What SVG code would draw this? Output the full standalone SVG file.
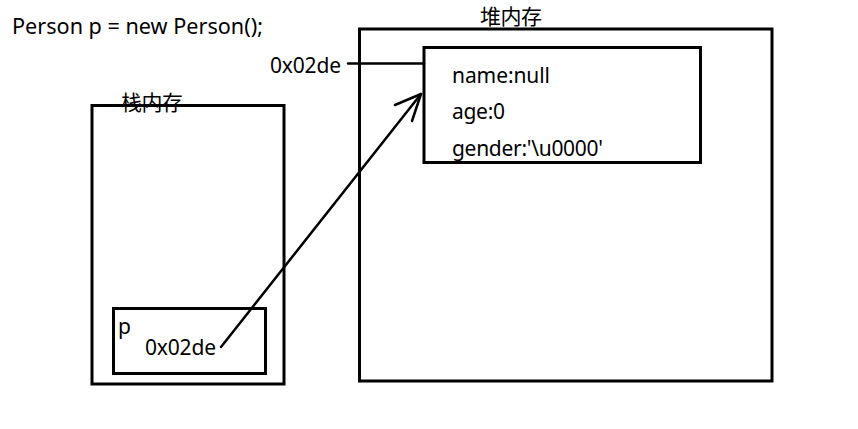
<svg xmlns="http://www.w3.org/2000/svg" width="858" height="429" viewBox="0 0 858 429">
<style>
.box{fill:none;stroke:#000;stroke-width:3}
.t{font-family:"Noto Sans","Noto Sans CJK SC",sans-serif;font-size:21px;fill:#000}
.ln{fill:none;stroke:#000;stroke-width:2.5;stroke-linecap:round;stroke-linejoin:round}
</style>
<rect width="858" height="429" fill="#fff"/>
<text class="t" x="12" y="34" textLength="251" lengthAdjust="spacingAndGlyphs">Person p = new Person();</text>
<g id="stack">
<rect class="box" x="92" y="105.5" width="192" height="278.5"/>
<text class="t" x="121" y="110" textLength="62">栈内存</text>
</g>
<g id="pvar">
<rect class="box" x="113.5" y="308.5" width="152" height="65"/>
<text class="t" x="118" y="334">p</text>
<text class="t" x="145" y="355" textLength="71">0x02de</text>
</g>
<g id="heap">
<rect class="box" x="359.5" y="29" width="412.5" height="352"/>
<text class="t" x="480" y="24" textLength="62">堆内存</text>
</g>
<g id="object">
<rect class="box" x="424" y="47.5" width="276.5" height="115"/>
<text class="t" x="452" y="83" textLength="98">name:null</text>
<text class="t" x="452" y="119" textLength="53">age:0</text>
<text class="t" x="452" y="156" textLength="151">gender:'\u0000'</text>
</g>
<g id="addr">
<text class="t" x="270" y="73" textLength="71">0x02de</text>
</g>
<g id="connectors">
<line class="ln" x1="348" y1="63.5" x2="424" y2="63.5"/>
<polyline class="ln" points="221,347 421,94"/>
<polyline class="ln" points="395,105 421,94 412,121"/>
</g>
</svg>
